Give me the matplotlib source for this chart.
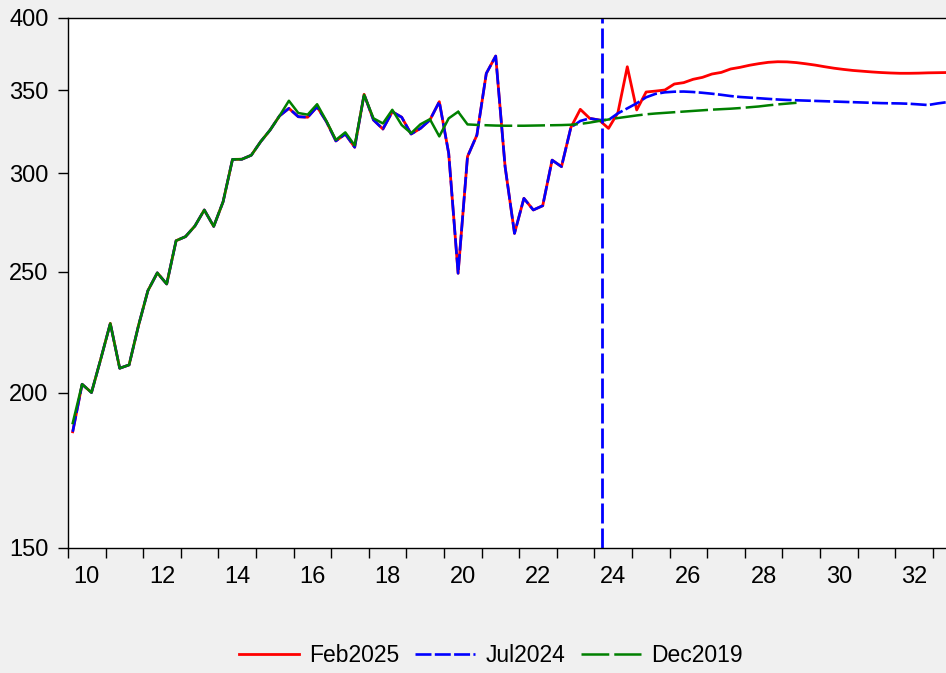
import numpy as np
import matplotlib.pyplot as plt
from matplotlib.ticker import FixedLocator, FixedFormatter, NullLocator, NullFormatter

plt.rcParams['font.family'] = ['Liberation Sans', 'DejaVu Sans']
plt.rcParams['lines.scale_dashes'] = False

# quarterly data, first observation 2010Q1
start_year = 2010

# shared history 2010Q1 - 2023Q2
history = [
    186.0, 203.1, 200.0, 213.0,
    227.3, 209.2, 210.5, 226.4,
    241.5, 249.6, 244.5, 264.9,
    266.9, 272.2, 280.4, 272.0,
    284.7, 307.9, 308.0, 310.3,
    318.2, 325.1, 333.7, 338.4,
    333.2, 332.9, 339.4, 330.1,
    318.6, 322.7, 314.9, 347.3,
    331.2, 325.7, 336.3, 332.9,
    322.7, 326.1, 331.2, 342.6,
    311.4, 249.4, 309.5, 322.1,
    361.0, 372.8, 303.8, 268.5,
    286.5, 280.4, 282.6, 307.5,
    303.8, 326.7,
]

# 2023Q3 - 2033Q2
feb2025_tail = [
    337.8, 332.2,
    331.2, 326.1, 335.7, 365.5,
    337.4, 348.8, 349.4, 350.1,
    354.0, 354.9, 357.1, 358.4,
    360.6, 361.7, 364.0, 365.1,
    366.5, 367.6, 368.5, 368.9,
    368.8, 368.3, 367.5, 366.6,
    365.5, 364.5, 363.7, 363.0,
    362.5, 362.0, 361.6, 361.3,
    361.1, 361.1, 361.2, 361.4,
    361.5, 361.6,
]

jul2024_tail = [
    330.6, 332.2,
    331.2, 331.2, 335.3, 338.4,
    341.6, 345.4, 347.6, 348.6,
    349.0, 349.1, 348.8, 348.3,
    347.7, 347.0, 346.2, 345.6,
    345.2, 344.8, 344.4, 344.0,
    343.7, 343.5, 343.3, 343.1,
    342.9, 342.7, 342.5, 342.3,
    342.1, 341.9, 341.7, 341.6,
    341.5, 341.3, 340.9, 340.5,
    341.5, 342.3,
]

# 2010Q1 - 2029Q2
dec2019 = [
    189.0, 203.1, 200.0, 213.0,
    227.3, 209.2, 210.5, 226.4,
    241.5, 249.6, 244.5, 264.9,
    266.9, 272.2, 280.4, 272.0,
    284.7, 307.9, 308.0, 310.3,
    318.2, 325.1, 333.7, 343.2,
    335.5, 334.5, 341.0, 330.5,
    319.2, 323.7, 316.0, 347.0,
    332.2, 329.1, 337.5, 328.1,
    323.2, 328.6, 331.7, 321.3,
    332.2, 336.3, 328.5, 328.2,
    328.0, 327.8, 327.7, 327.7,
    327.7, 327.8, 327.9, 328.0,
    328.1, 328.3, 328.8, 329.6,
    330.6, 331.5, 332.4, 333.2,
    334.0, 334.7, 335.2, 335.6,
    336.0, 336.4, 336.8, 337.2,
    337.6, 337.9, 338.2, 338.6,
    339.1, 339.6, 340.3, 340.9,
    341.4, 341.9,
]
dec2019_last_actual = 41   # 2020Q2

forecast_start = 2024.19
ytick_values = [150, 200, 250, 300, 350, 400]
year_labels = ['10', '12', '14', '16', '18', '20', '22', '24', '26', '28', '30', '32']

feb2025 = history + feb2025_tail
jul2024 = history + jul2024_tail


def quarters(n):
    return start_year + 0.25 * np.arange(n) + 0.125


fig = plt.figure(figsize=(9.46, 6.73), dpi=100, facecolor='#f0f0f0')
ax = fig.add_axes([68 / 946, 125 / 673, 882 / 946, 530 / 673])
ax.set_facecolor('white')

t_red = quarters(len(feb2025))
t_blue = quarters(len(jul2024))
t_green = quarters(len(dec2019))
k = dec2019_last_actual

l_red, = ax.plot(t_red, feb2025, color='red', lw=2.0, label='Feb2025')
l_blue, = ax.plot(t_blue, jul2024, color='blue', lw=1.9, dashes=(11.5, 2.4), label='Jul2024')
ax.plot(t_green[:k + 1], dec2019[:k + 1], color='green', lw=1.8)
l_green, = ax.plot(t_green[k:], dec2019[k:], color='green', lw=1.8, dashes=(20, 3.6), label='Dec2019')

ax.axvline(forecast_start, color='blue', lw=2.0, dashes=(14.4, 3.6))

ax.set_yscale('log')
ax.set_ylim(150, 400)
ax.set_xlim(2010, 2010 + 882 / 37.6)

ax.yaxis.set_major_locator(FixedLocator(ytick_values))
ax.yaxis.set_major_formatter(FixedFormatter([str(v) for v in ytick_values]))
ax.yaxis.set_minor_locator(NullLocator())
ax.yaxis.set_minor_formatter(NullFormatter())
ax.tick_params(axis='y', which='major', direction='out', length=7, width=1,
               labelsize=17, pad=7)

ax.xaxis.set_major_locator(FixedLocator(np.arange(2010, 2034)))
ax.xaxis.set_major_formatter(NullFormatter())
ax.xaxis.set_minor_locator(FixedLocator(np.arange(2010, 2033, 2) + 0.5))
ax.xaxis.set_minor_formatter(FixedFormatter(year_labels))
ax.tick_params(axis='x', which='major', direction='out', length=7, width=1)
ax.tick_params(axis='x', which='minor', length=0, labelsize=17, pad=13)

for side in ['left', 'top', 'bottom']:
    ax.spines[side].set_linewidth(1.0)
ax.spines['right'].set_visible(False)

fig.legend(handles=[l_red, l_blue, l_green], loc='center',
           bbox_to_anchor=(491 / 946, 17 / 673), ncol=3, frameon=False,
           fontsize=16.5, handlelength=2.6, handletextpad=0.45, columnspacing=0.7)

fig.savefig('out.png', dpi=100, facecolor=fig.get_facecolor())
